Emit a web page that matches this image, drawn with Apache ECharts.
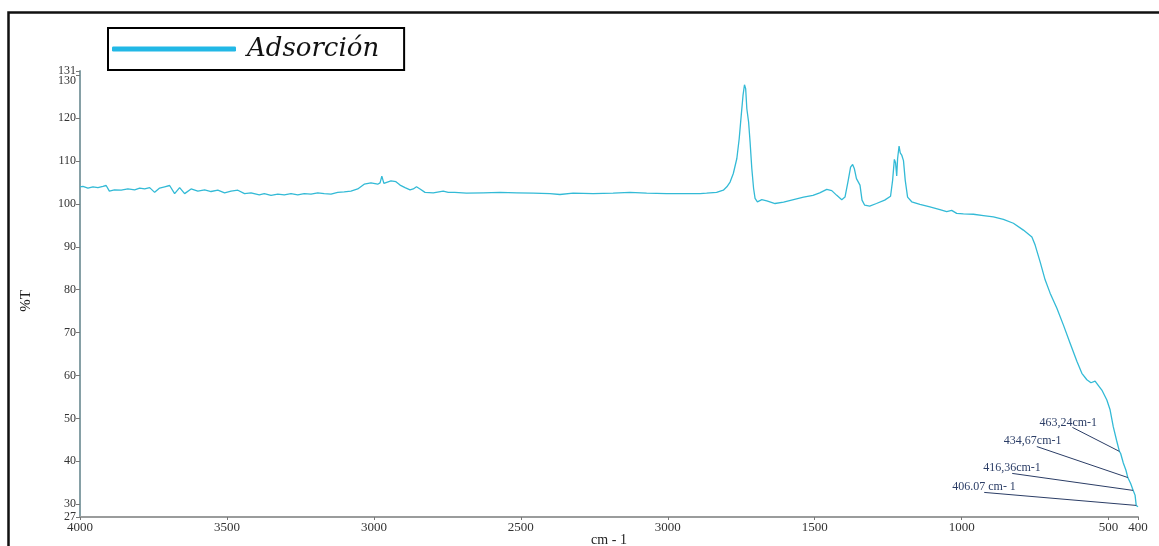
<!DOCTYPE html>
<html>
<head>
<meta charset="utf-8">
<title>Espectro IR - Adsorción</title>
<script src="https://cdn.jsdelivr.net/npm/echarts@6/dist/echarts.min.js"></script>
<style>
  html, body { margin: 0; padding: 0; background: #fff; }
  #chart { width: 1159px; height: 546px; }
</style>
</head>
<body>
<div id="chart"></div>
<script>
// Wavenumber (cm-1), high to low
const wavenumbers = [
  4000, 3990, 3973, 3956, 3939, 3922, 3911, 3900, 3883, 3860, 3837, 3814, 3797, 3780,
  3763, 3746, 3729, 3712, 3695, 3678, 3661, 3644, 3622, 3599, 3576, 3554, 3531, 3508,
  3486, 3463, 3440, 3418, 3390, 3373, 3350, 3327, 3305, 3282, 3259, 3237, 3214, 3191,
  3169, 3146, 3123, 3101, 3078, 3055, 3033, 3010, 2987, 2979, 2973, 2966, 2942, 2925,
  2911, 2894, 2877, 2866, 2855, 2843, 2826, 2798, 2764, 2747, 2725, 2685, 2628, 2571,
  2514, 2458, 2401, 2367, 2322, 2254, 2186, 2129, 2072, 2004, 1936, 1890, 1868, 1834,
  1811, 1799, 1788, 1777, 1765, 1757, 1750, 1744, 1739, 1735, 1731, 1725, 1720, 1714,
  1708, 1703, 1695, 1680, 1663, 1635, 1606, 1572, 1538, 1506, 1483, 1459, 1442, 1425,
  1408, 1397, 1386, 1378, 1371, 1365, 1358, 1352, 1346, 1339, 1330, 1313, 1290, 1262,
  1242, 1235, 1229, 1225, 1221, 1218, 1213, 1209, 1204, 1198, 1192, 1184, 1170, 1142,
  1108, 1074, 1051, 1034, 1017, 994, 960, 926, 892, 858, 824, 790, 761, 750,
  733, 716, 699, 676, 654, 631, 608, 591, 574, 560, 546, 534, 523, 506,
  495, 484, 473, 463.24, 459, 450, 441, 434.67, 425, 416.36, 410, 406.07, 403, 400
];

// Transmittance (%T) at each wavenumber above
const transmittance = [
  104.0, 104.1, 103.7, 104.0, 103.8, 104.1, 104.3, 103.0, 103.3, 103.2, 103.5, 103.3, 103.7, 103.5,
  103.8, 102.7, 103.7, 104.0, 104.3, 102.4, 103.8, 102.4, 103.5, 103.0, 103.3, 102.9, 103.2, 102.6,
  103.0, 103.2, 102.4, 102.6, 102.1, 102.4, 102.0, 102.3, 102.1, 102.4, 102.1, 102.4, 102.3, 102.6,
  102.4, 102.3, 102.7, 102.8, 103.0, 103.5, 104.6, 104.9, 104.6, 104.9, 106.5, 104.8, 105.4, 105.2,
  104.4, 103.8, 103.3, 103.5, 104.0, 103.5, 102.7, 102.6, 103.0, 102.7, 102.7, 102.5, 102.6, 102.7,
  102.6, 102.5, 102.4, 102.2, 102.5, 102.4, 102.5, 102.7, 102.5, 102.4, 102.4, 102.4, 102.5, 102.7,
  103.2, 104.0, 105.1, 107.1, 110.6, 115.2, 120.7, 125.3, 127.8, 126.9, 122.2, 119.1, 114.5, 108.2,
  103.6, 101.3, 100.5, 101.0, 100.7, 100.1, 100.4, 101.0, 101.6, 102.0, 102.6, 103.4, 103.1, 102.0,
  101.0, 101.6, 105.5, 108.6, 109.2, 108.2, 105.9, 106.1, 104.4, 100.9, 99.7, 99.5, 100.1, 100.9,
  101.8, 105.5, 110.4, 109.6, 106.5, 110.6, 113.5, 111.9, 111.4, 110.1, 105.5, 101.6, 100.5, 99.9,
  99.3, 98.7, 98.2, 98.5, 97.8, 97.7, 97.6, 97.3, 97.0, 96.4, 95.5, 93.9, 92.3, 90.4,
  86.5, 82.3, 79.2, 75.7, 71.8, 67.5, 63.3, 60.5, 59.0, 58.3, 58.7, 57.6, 56.6, 54.3,
  52.0, 48.0, 44.9, 42.3, 41.8, 39.6, 37.9, 36.2, 34.8, 33.2, 32.1, 29.7, 30.1, 29.4
];

// Axis ticks and their printed labels
const xTickValues = [4000, 3500, 3000, 2500, 2000, 1500, 1000, 500, 400];
const xTickLabels = ['4000', '3500', '3000', '2500', '3000', '1500', '1000', '500', '400'];
const yTickValues = [27, 30, 40, 50, 60, 70, 80, 90, 100, 110, 120, 130];
const yTopTick = [131];

// Marked bands near the low end of the spectrum
const peakWavenumbers = [463.24, 434.67, 416.36, 406.07];
const peakValues = [42.3, 36.2, 33.2, 29.7];
const peakLabels = ['463,24cm-1', '434,67cm-1', '416,36cm-1', '406.07 cm- 1'];

// Pixel offsets of each callout (leader start, text anchor) from its band
const calloutOffsets = [
  { line: [-47, -24], text: [-80, -29] },
  { line: [-91, -31], text: [-124, -37] },
  { line: [-121, -17], text: [-150, -23] },
  { line: [-152, -13], text: [-184, -19] }
];

const serif = '"Liberation Serif", "Times New Roman", serif';
const spectrum = wavenumbers.map((w, i) => [w, transmittance[i]]);
const peaks = peakWavenumbers.map((w, i) => [w, peakValues[i]]);

const yLabelStyle = {
  fontFamily: serif,
  fontSize: 12,
  color: '#333',
  margin: 4,
  showMinLabel: true,
  showMaxLabel: true,
  hideOverlap: false
};

const chart = echarts.init(document.getElementById('chart'), null, { renderer: 'canvas' });

chart.setOption({
  animation: false,
  backgroundColor: '#ffffff',
  grid: { left: 80, right: 21, top: 71, bottom: 29, containLabel: false, outerBoundsMode: 'none' },
  graphic: [{
    type: 'rect',
    shape: { x: 8.5, y: 12.5, width: 1200, height: 600 },
    style: { fill: 'none', stroke: '#111', lineWidth: 2.5 },
    silent: true,
    z: 100
  }],
  legend: {
    data: ['Adsorción'],
    left: 108,
    top: 28,
    orient: 'horizontal',
    padding: [8, 25, 8, 4],
    borderColor: '#000',
    borderWidth: 2,
    icon: 'roundRect',
    itemWidth: 124,
    itemHeight: 5,
    itemStyle: { color: '#22b8e6' },
    textStyle: {
      fontFamily: '"DejaVu Serif", serif',
      fontStyle: 'italic',
      fontSize: 26,
      color: '#111',
      lineHeight: 26,
      padding: [0, 0, 0, 6]
    },
    selectedMode: false
  },
  xAxis: {
    type: 'value',
    inverse: true,
    min: 400,
    max: 4000,
    name: 'cm - 1',
    nameLocation: 'middle',
    nameGap: 16,
    nameMoveOverlap: false,
    nameTextStyle: { fontFamily: serif, fontSize: 14, color: '#222' },
    axisLine: { show: true, onZero: false, lineStyle: { color: '#9a9c9c', width: 2 } },
    axisTick: { show: true, length: 3, customValues: xTickValues, lineStyle: { color: '#777', width: 1 } },
    axisLabel: {
      customValues: xTickValues,
      formatter: v => xTickLabels[xTickValues.indexOf(v)] ?? '',
      fontFamily: serif,
      fontSize: 13,
      color: '#333',
      margin: 4,
      showMinLabel: true,
      showMaxLabel: true,
      hideOverlap: false
    },
    splitLine: { show: false }
  },
  yAxis: [
    {
      type: 'value',
      min: 27,
      max: 131,
      name: '%T',
      nameLocation: 'middle',
      nameGap: 46,
      nameRotate: 90,
      nameMoveOverlap: false,
      nameTextStyle: { fontFamily: serif, fontSize: 15, color: '#222', padding: [0, 0, 0, -14] },
      axisLine: { show: true, onZero: false, lineStyle: { color: '#86a0a6', width: 2 } },
      axisTick: { show: true, length: 4, customValues: yTickValues, lineStyle: { color: '#777', width: 1 } },
      axisLabel: Object.assign({
        customValues: yTickValues,
        // the 130 label is nudged down so it clears the 131 end label
        formatter: v => (v === 130 ? '{low|130}' : String(v)),
        rich: { low: { fontFamily: serif, fontSize: 12, color: '#333', padding: [12, 0, 0, 0] } }
      }, yLabelStyle),
      splitLine: { show: false }
    },
    {
      // top end of the scale, labelled on its own
      type: 'value',
      position: 'left',
      min: 27,
      max: 131,
      axisLine: { show: false },
      axisTick: { show: true, length: 4, customValues: yTopTick, lineStyle: { color: '#777', width: 1 } },
      axisLabel: Object.assign({ customValues: yTopTick }, yLabelStyle),
      splitLine: { show: false }
    }
  ],
  series: [
    {
      name: 'Adsorción',
      type: 'line',
      data: spectrum,
      showSymbol: false,
      symbol: 'none',
      smooth: false,
      lineStyle: { color: '#33bad6', width: 1.3 },
      itemStyle: { color: '#33bad6' },
      z: 3
    },
    {
      name: 'bandas',
      type: 'custom',
      data: peaks,
      clip: false,
      silent: true,
      z: 4,
      renderItem: (params, api) => {
        const i = params.dataIndex;
        const p = api.coord([api.value(0), api.value(1)]);
        const o = calloutOffsets[i];
        return {
          type: 'group',
          children: [
            {
              type: 'line',
              shape: { x1: p[0] + o.line[0], y1: p[1] + o.line[1], x2: p[0], y2: p[1] },
              style: { stroke: '#2b3d66', lineWidth: 1 }
            },
            {
              type: 'text',
              x: p[0] + o.text[0],
              y: p[1] + o.text[1],
              style: {
                text: peakLabels[i],
                fill: '#2b3d66',
                font: '12px ' + serif,
                textAlign: 'left',
                textVerticalAlign: 'middle',
                align: 'left',
                verticalAlign: 'middle'
              }
            }
          ]
        };
      }
    }
  ]
});
</script>
</body>
</html>
